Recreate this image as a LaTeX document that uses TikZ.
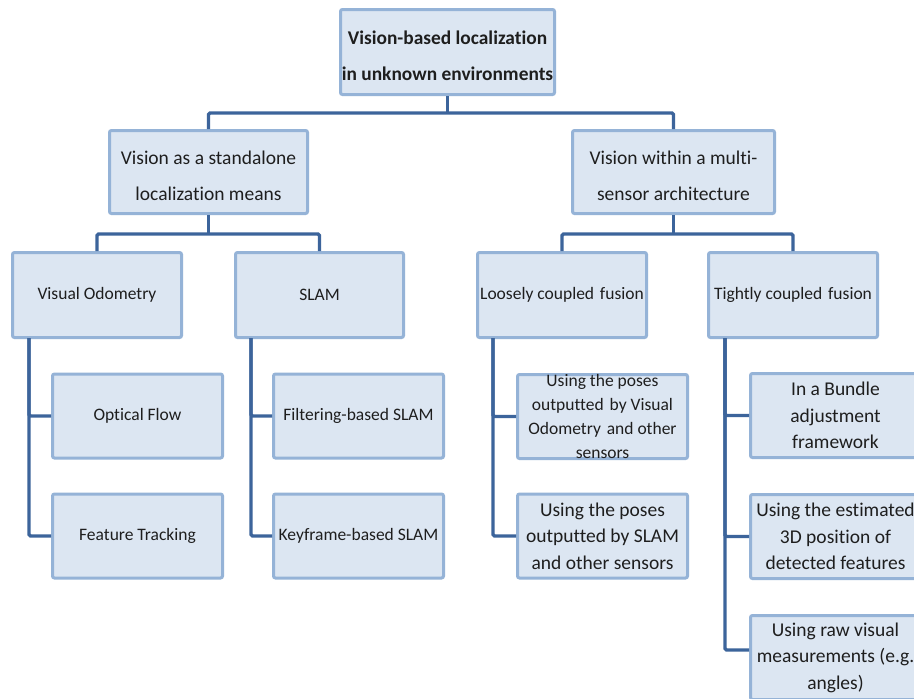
\documentclass[tikz,border=0pt]{standalone}
\usepackage{fontspec}
\setmainfont{Carlito}[Ligatures=NoCommon]
\definecolor{boxfill}{RGB}{220,230,242}
\definecolor{boxline}{RGB}{149,179,215}
\definecolor{connline}{RGB}{60,100,155}
\definecolor{txt}{RGB}{30,30,30}
\newcommand{\lowtwo}[1]{\raisebox{-3pt}[\height][\depth]{\begin{tabular}{@{}c@{}}#1\end{tabular}}}
\tikzset{
  box/.style={draw=boxline, fill=boxfill, line width=3pt, rounded corners=2pt,
    inner sep=0pt, align=center, text=txt},
  conn/.style={draw=connline, line width=3.2pt, rounded corners=1.5pt},
  fA/.style={font=\fontsize{19.4}{36}\selectfont\bfseries},
  fB/.style={font=\fontsize{19.5}{36}\selectfont},
  fC/.style={font=\fontsize{17.5}{21}\selectfont},
  fD/.style={font=\fontsize{17.5}{23.7}\selectfont},
  fE/.style={font=\fontsize{19.5}{26.5}\selectfont}
}
\begin{document}
\begin{tikzpicture}[x=1pt,y=-1pt]
\path[use as bounding box, clip] (0,0) rectangle (914,699);
\fill[white] (0,0) rectangle (914,699);
% level 1
\node[box, fA, minimum width=214pt, minimum height=85pt] (top) at (447.5,52) {\lowtwo{Vision-based localization\\in unknown environments}};
% level 2
\node[box, fB, minimum width=198pt, minimum height=83pt] (sa) at (208.5,172) {\lowtwo{Vision as a standalone\\localization means}};
\node[box, fB, minimum width=202pt, minimum height=83pt] (ms) at (673.5,172) {\lowtwo{Vision within a multi-\\sensor architecture}};
% level 3
\node[box, fC, minimum width=169pt, minimum height=85pt] (vo) at (97,295) {Visual Odometry};
\node[box, fC, minimum width=168pt, minimum height=85pt] (slam) at (319.5,295) {SLAM};
\node[box, fC, minimum width=169pt, minimum height=85pt] (lc) at (562,295) {Loosely coupled\,\,fusion};
\node[box, fC, minimum width=169pt, minimum height=85pt] (tc) at (793,295) {Tightly coupled\,\,fusion};
% level 4
\node[box, fC, minimum width=170pt, minimum height=84pt] (of) at (137.5,416) {Optical Flow};
\node[box, fC, minimum width=170pt, minimum height=84pt] (ft) at (137.5,536) {Feature Tracking};
\node[box, fC, minimum width=170pt, minimum height=84pt] (fs) at (358.5,416) {Filtering-based SLAM};
\node[box, fC, minimum width=170pt, minimum height=84pt] (ks) at (358.5,536) {Keyframe-based SLAM};
\node[box, fD, minimum width=170pt, minimum height=84pt] (pv) at (602.5,416.5) {Using the poses\\outputted\,\,by Visual\\Odometry\,\,and other\\sensors};
\node[box, fE, minimum width=170pt, minimum height=84pt] (ps) at (602.5,536) {Using the poses\\outputted by SLAM\\and other sensors};
\node[box, fE, minimum width=170pt, minimum height=84pt] (ba) at (835.5,415.5) {In a Bundle\\adjustment\\framework};
\node[box, fE, minimum width=170pt, minimum height=84pt] (es) at (835.5,536.5) {Using the estimated\\3D position of\\detected features};
\node[box, fE, minimum width=170pt, minimum height=84pt] (rv) at (835.5,657.5) {Using raw visual\\measurements (e.g.\\angles)};
% connectors level 1 -> 2
\coordinate (j1) at (447.5,113);
\draw[conn] (top.south) -- (j1);
\draw[conn] (sa.north) -- (sa.north |- j1) -- (ms.north |- j1) -- (ms.north);
% level 2 -> 3
\coordinate (j2) at (208.5,234);
\draw[conn] (sa.south) -- (j2);
\draw[conn] (vo.north) -- (vo.north |- j2) -- (slam.north |- j2) -- (slam.north);
\coordinate (j3) at (673.5,234);
\draw[conn] (ms.south) -- (j3);
\draw[conn] (lc.north) -- (lc.north |- j3) -- (tc.north |- j3) -- (tc.north);
% level 3 -> 4
\coordinate (v1) at (29,338);
\draw[conn] (v1) |- (of.west);
\draw[conn] (v1) |- (ft.west);
\coordinate (v2) at (251,338);
\draw[conn] (v2) |- (fs.west);
\draw[conn] (v2) |- (ks.west);
\coordinate (v3) at (493,338);
\draw[conn] (v3) |- (pv.west);
\draw[conn] (v3) |- (ps.west);
\coordinate (v4) at (725,338);
\draw[conn] (v4) |- (ba.west);
\draw[conn] (v4) |- (es.west);
\draw[conn] (v4) |- ([yshift=7.5pt]rv.west);
\end{tikzpicture}
\end{document}
